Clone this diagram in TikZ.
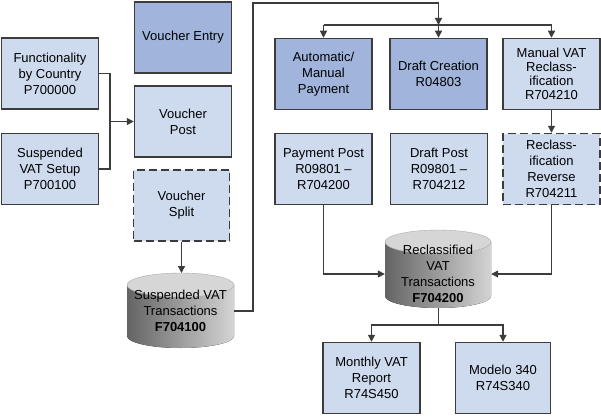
\documentclass[tikz,border=0pt]{standalone}
\usepackage{fontspec}
\setmainfont{Liberation Sans}
\usetikzlibrary{arrows.meta}
\definecolor{dkfill}{RGB}{160,180,220}
\definecolor{ltfill}{RGB}{206,218,238}
\definecolor{edge}{RGB}{60,60,60}
\definecolor{cylL}{RGB}{100,100,100}
\definecolor{cylR}{RGB}{212,212,212}
\definecolor{cylTop}{RGB}{214,214,214}
\begin{document}
\begin{tikzpicture}[x=1pt,y=1pt,
  font=\fontsize{13}{16}\selectfont,
  box/.style={draw=edge, line width=1.5pt, minimum width=97pt, minimum height=71pt, inner sep=0pt, align=center},
  dkbox/.style={box, fill=dkfill},
  ltbox/.style={box, fill=ltfill},
  dbox/.style={box, fill=ltfill, dash pattern=on 8pt off 4pt},
  cyltext/.style={inner sep=0pt, align=center, minimum width=107pt},
  conn/.style={draw=edge, line width=1.3pt},
  arr/.style={conn, -{Triangle[length=7pt,width=7pt]}}
]
\useasboundingbox (0,0) rectangle (601,-417);

% cylinders (drawn first)
\fill[left color=cylL, right color=cylR] (127,-285) -- (127,-336) arc[start angle=180, end angle=360, x radius=53.5pt, y radius=12pt] -- (234,-285) -- cycle;
\filldraw[fill=cylTop, draw=cylTop!80!black, line width=0.4pt] (180.5,-285) ellipse[x radius=53.5pt, y radius=12pt];

\fill[left color=cylL, right color=cylR] (385,-242) -- (385,-296) arc[start angle=180, end angle=360, x radius=53pt, y radius=12pt] -- (491,-242) -- cycle;
\filldraw[fill=cylTop, draw=cylTop!80!black, line width=0.4pt] (438,-242) ellipse[x radius=53pt, y radius=12pt];

% boxes
\node[ltbox] (func) at (50,-73.5) {Functionality\\by Country\\P700000};
\node[ltbox] (setup) at (50,-169) {Suspended\\VAT Setup\\P700100};
\node[dkbox] (ventry) at (183,-37.5) {Voucher Entry};
\node[ltbox] (vpost) at (183,-121.5) {Voucher\\Post};
\node[dbox, minimum width=96pt] (vsplit) at (181.5,-205.5) {Voucher\\Split};
\node[cyltext] (sus) at (180.5,-311) {Suspended VAT\\Transactions\\\textbf{F704100}};
\coordinate (sustop) at (181.5,-273);

\node[dkbox] (autopay) at (323.5,-74) {Automatic/\\Manual\\Payment};
\node[dkbox] (draftc) at (438.5,-74) {Draft Creation\\R04803};
\node[ltbox, font=\fontsize{13}{14}\selectfont] (manvat) at (551.5,-74) {Manual VAT\\Reclass-\\ification\\R704210};
\node[ltbox] (paypost) at (323.5,-169) {Payment Post\\R09801 --\\R704200};
\node[ltbox] (draftpost) at (439,-169) {Draft Post\\R09801 --\\R704212};
\node[dbox] (reverse) at (551.5,-169) {Reclass-\\ification\\Reverse\\R704211};
\node[cyltext, minimum width=106pt] (rec) at (438,-274) {Reclassified\\VAT\\Transactions\\\textbf{F704200}};
\coordinate (recbot) at (438.5,-308);

\node[ltbox] (monthly) at (371.5,-378) {Monthly VAT\\Report\\R74S450};
\node[ltbox, minimum width=95pt] (modelo) at (503,-378) {Modelo 340\\R74S340};

% connectors
\coordinate (j1) at (110,-121.5);
\draw[conn] (func.east) -| (j1);
\draw[conn] (setup.east) -| (j1);
\draw[arr] (j1) -- (vpost.west);
\draw[arr] (vsplit.south) -- (sustop);

\coordinate (up) at (253,-3);
\coordinate (bar) at (438.5,-25);
\draw[arr] (sus.east) -| (up) -| (bar);
\draw[conn] (autopay.north |- bar) -- (manvat.north |- bar);
\draw[arr] (autopay.north |- bar) -- (autopay.north);
\draw[arr] (bar) -- (draftc.north);
\draw[arr] (manvat.north |- bar) -- (manvat.north);
\draw[arr] (manvat.south) -- (reverse.north);

\draw[arr] (paypost.south) |- (rec.west);
\draw[arr] (reverse.south) |- (rec.east);

\coordinate (bar2) at (438.5,-325);
\draw[conn] (recbot) -- (bar2);
\draw[arr] (bar2) -| (monthly.north);
\draw[arr] (bar2) -| (modelo.north);
\end{tikzpicture}
\end{document}
